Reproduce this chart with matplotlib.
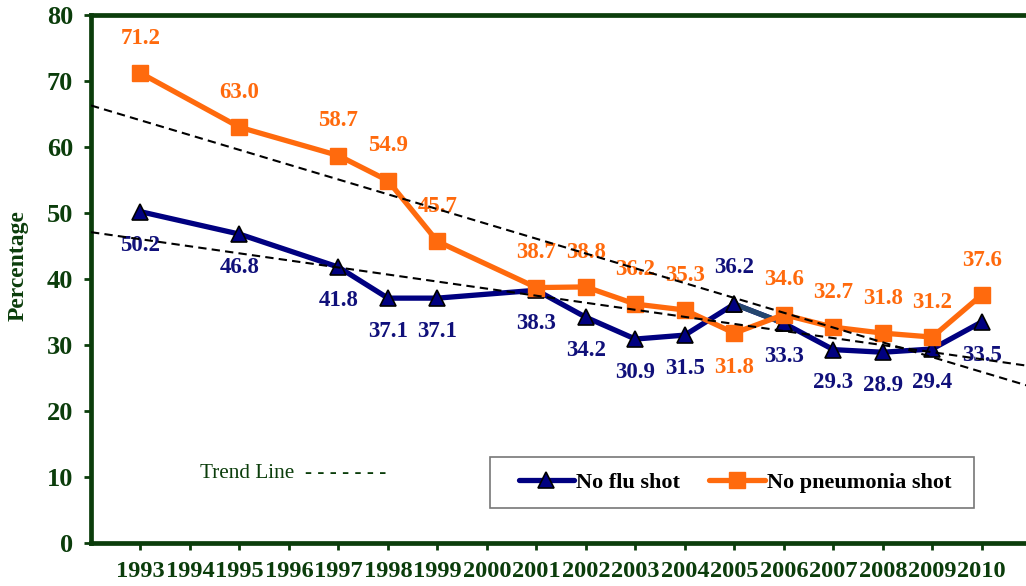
import numpy as np
import matplotlib
matplotlib.use("Agg")
import matplotlib.pyplot as plt
from matplotlib.lines import Line2D
from matplotlib.patches import Rectangle

# ---- data ----
tick_years = list(range(1993, 2011))
years = [1993, 1995, 1997, 1998, 1999, 2001, 2002, 2003, 2004, 2005, 2006, 2007, 2008, 2009, 2010]
no_flu = [50.2, 46.8, 41.8, 37.1, 37.1, 38.3, 34.2, 30.9, 31.5, 36.2, 33.3, 29.3, 28.9, 29.4, 33.5]
no_pneu = [71.2, 63.0, 58.7, 54.9, 45.7, 38.7, 38.8, 36.2, 35.3, 31.8, 34.6, 32.7, 31.8, 31.2, 37.6]
# label placement: +1 above the point, -1 below
flu_side = [-1] * 9 + [1] + [-1] * 5
pneu_side = [1] * 9 + [-1] + [1] * 5

GREEN = "#0b3d0b"
NAVY = "#000080"
ORANGE = "#ff6a0d"
SERIF = ["Liberation Serif", "DejaVu Serif"]

W, H = 1026, 586
fig = plt.figure(figsize=(W / 100, H / 100), dpi=100)
left_px, right_px, top_px, bot_px = 91, 1056, 15, 543
ax = fig.add_axes([left_px / W, 1 - bot_px / H, (right_px - left_px) / W, (bot_px - top_px) / H])
ax.set_xlim(1992, 2011.5)
ax.set_ylim(0, 80)

# series
ax.plot(years, no_flu, color=NAVY, lw=3.8, marker="^", ms=11, mfc=NAVY, mec="black", mew=1.2,
        zorder=3, solid_joinstyle="round")
i5 = years.index(2005)
ax.plot(years[i5:i5 + 2], no_flu[i5:i5 + 2], color="#24466e", lw=3.8, zorder=3.1,
        solid_capstyle="butt")
ax.plot(years[i5:i5 + 2], no_flu[i5:i5 + 2], ls="none", marker="^", ms=11, mfc=NAVY, mec="black",
        mew=1.2, zorder=3.2)
ax.plot(years, no_pneu, color=ORANGE, lw=3.8, marker="s", ms=11, mfc=ORANGE, mec=ORANGE,
        zorder=4, solid_joinstyle="round")

# trend lines (least-squares fit of the data)
xs = np.array([1992, 2011.5])
for vals in (no_flu, no_pneu):
    k, b = np.polyfit(years, vals, 1)
    ax.plot(xs, k * xs + b, color="black", ls=(0, (4, 2.5)), lw=1.5, zorder=6)

# data labels
for x, v, s in zip(years, no_flu, flu_side):
    ax.annotate(f"{v:.1f}", (x, v), xytext=(0, 26 if s > 0 else -24), textcoords="offset points",
                ha="center", va="center", fontsize=16.5, fontweight="bold", color="#10107a",
                family=SERIF, zorder=5)
for x, v, s in zip(years, no_pneu, pneu_side):
    ax.annotate(f"{v:.1f}", (x, v), xytext=(0, 25 * s), textcoords="offset points",
                ha="center", va="center", fontsize=16.5, fontweight="bold", color=ORANGE,
                family=SERIF, zorder=5)

# axes styling
for side in ("left", "bottom", "top"):
    ax.spines[side].set_color(GREEN)
    ax.spines[side].set_linewidth(3.4)
ax.spines["right"].set_visible(False)
ax.set_xticks(tick_years)
ax.set_xticklabels([str(y) for y in tick_years])
ax.set_yticks(range(0, 81, 10))
ax.tick_params(axis="both", colors=GREEN, width=2, length=5, direction="out", labelcolor=GREEN)
ax.tick_params(axis="x", pad=8)
ax.tick_params(axis="y", pad=8)
for lab in ax.get_xticklabels():
    lab.set_fontsize(17.6)
    lab.set_fontweight("bold")
    lab.set_family(SERIF)
for lab in ax.get_yticklabels():
    lab.set_fontsize(19)
    lab.set_fontweight("bold")
    lab.set_family(SERIF)

fig.text(18 / W, 1 - 266 / H, "Percentage", rotation=90, ha="center", va="center",
         fontsize=17, fontweight="bold", color=GREEN, family=SERIF)

fig.text(200 / W, 1 - 473 / H, "Trend Line  - - - - - - -", ha="left", va="center",
         fontsize=15.3, color=GREEN, family=SERIF)

# legend
handles = [
    Line2D([], [], color=NAVY, lw=3.8, marker="^", ms=11, mfc=NAVY, mec="black", mew=1.2,
           solid_capstyle="round"),
    Line2D([], [], color=ORANGE, lw=3.8, marker="s", ms=11, mfc=ORANGE, mec=ORANGE,
           solid_capstyle="round"),
]
leg = fig.legend(handles, ["No flu shot", "No pneumonia shot"], ncol=2, loc="center",
                 bbox_to_anchor=(735 / W, 1 - 482.5 / H), frameon=False,
                 prop={"family": SERIF, "weight": "bold", "size": 16},
                 handlelength=2.5, handletextpad=0.1, columnspacing=1.3, borderpad=0.5,
                 borderaxespad=0)
fig.add_artist(Rectangle((490 / W, 1 - 508 / H), (974 - 490) / W, (508 - 457) / H,
                         transform=fig.transFigure, fill=False, edgecolor="#777777", lw=1.2))

fig.savefig("out.png", dpi=100)
